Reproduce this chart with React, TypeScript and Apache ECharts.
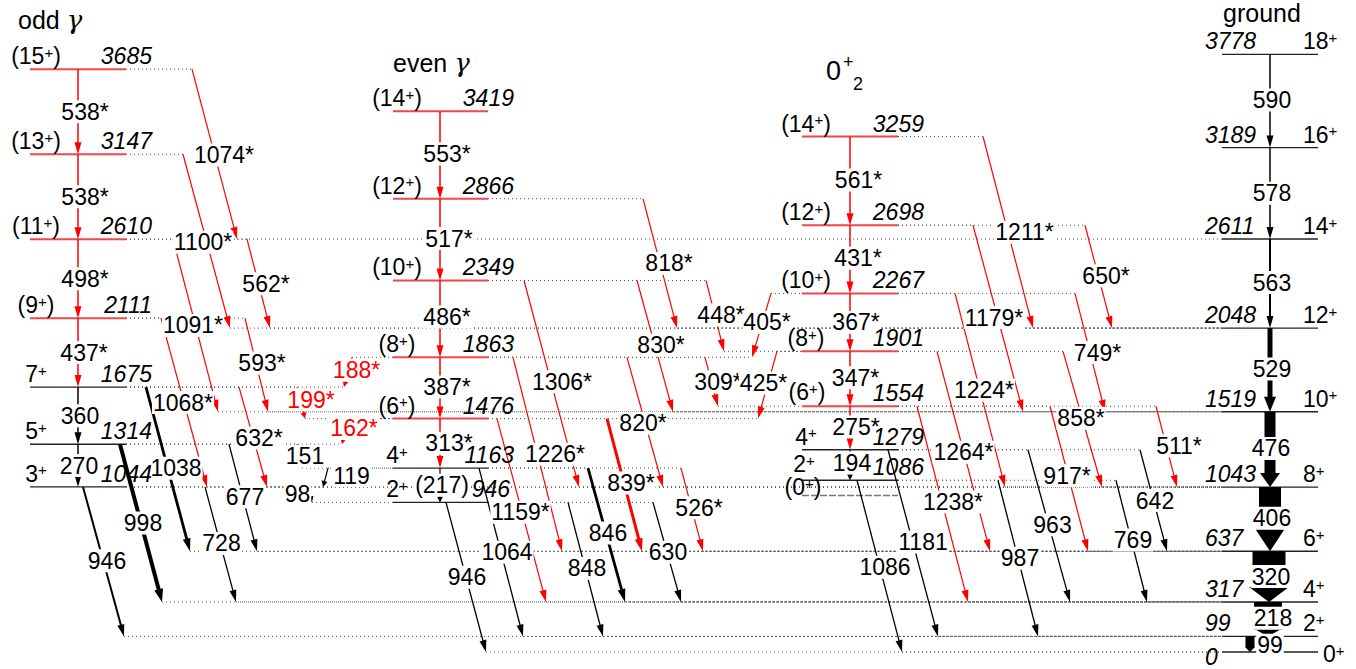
import { useEffect, useRef } from 'react';
import * as echarts from 'echarts';

// ---- levels: energy (keV), spin, band (0 odd γ, 1 even γ, 2 0+2, 3 ground) ----
const levelEnergy = [
  3685, 3147, 2610, 2111, 1675, 1314, 1044,
  3419, 2866, 2349, 1863, 1476, 1163, 946,
  3259, 2698, 2267, 1901, 1554, 1279, 1086, 990,
  3778, 3189, 2611, 2048, 1519, 1043, 637, 317, 99, 0,
];
const levelSpin = [
  '(15+)', '(13+)', '(11+)', '(9+)', '7+', '5+', '3+',
  '(14+)', '(12+)', '(10+)', '(8+)', '(6+)', '4+', '2+',
  '(14+)', '(12+)', '(10+)', '(8+)', '(6+)', '4+', '2+', '(0+)',
  '18+', '16+', '14+', '12+', '10+', '8+', '6+', '4+', '2+', '0+',
];
const levelBand = [
  0, 0, 0, 0, 0, 0, 0,
  1, 1, 1, 1, 1, 1, 1,
  2, 2, 2, 2, 2, 2, 2, 2,
  3, 3, 3, 3, 3, 3, 3, 3, 3, 3,
];
// new levels (drawn red)
const levelNew = [
  true, true, true, true, false, false, false,
  true, true, true, true, true, false, false,
  true, true, true, true, true, false, false, false,
  false, false, false, false, false, false, false, false, false, false,
];
const tentativeLevels = [990];
const unlabelledLevels = [990];

// ---- gamma transitions: label, initial level, final level ----
const gammaLabels = [
  // odd γ band
  '538*', '538*', '498*', '437*', '360', '270',
  '1074*', '1100*', '562*', '1091*', '1068*', '593*', '632*', '1038', '998', '946', '728', '677',
  // odd <-> even links
  '188*', '199*', '162*', '151', '119', '98',
  // even γ band
  '553*', '517*', '486*', '387*', '313*', '(217)',
  '818*', '830*', '1306*', '1226*', '820*', '1159*', '839*', '526*', '846', '630', '1064', '848', '946',
  // 0+2 band
  '561*', '431*', '367*', '347*', '275*', '194',
  '448*', '405*', '309*', '425*', '1211*', '1179*', '650*', '1224*', '749*', '1264*',
  '858*', '1238*', '917*', '511*', '1086', '1181', '987', '963', '642', '769',
  // ground band
  '590', '578', '563', '529', '476', '406', '320', '218', '99',
];
const gammaFrom = [
  3685, 3147, 2610, 2111, 1675, 1314,
  3685, 3147, 2610, 2610, 2111, 2111, 1675, 1675, 1314, 1044, 1044, 1314,
  1863, 1675, 1476, 1314, 1163, 1044,
  3419, 2866, 2349, 1863, 1476, 1163,
  2866, 2349, 2349, 1863, 1863, 1476, 1476, 1163, 1163, 946, 1163, 946, 946,
  3259, 2698, 2267, 1901, 1554, 1279,
  2349, 2267, 1863, 1901, 3259, 2698, 2698, 2267, 2267, 1901,
  1901, 1554, 1554, 1554, 1086, 1279, 1086, 1279, 1279, 1086,
  3778, 3189, 2611, 2048, 1519, 1043, 637, 317, 99,
];
const gammaTo = [
  3147, 2610, 2111, 1675, 1314, 1044,
  2611, 2048, 2048, 1519, 1043, 1519, 1043, 637, 317, 99, 317, 637,
  1675, 1476, 1314, 1163, 1044, 946,
  2866, 2349, 1863, 1476, 1163, 946,
  2048, 1519, 1043, 637, 1043, 317, 637, 637, 317, 317, 99, 99, 0,
  2698, 2267, 1901, 1554, 1279, 1086,
  1901, 1863, 1554, 1476, 2048, 1519, 2048, 1043, 1519, 637,
  1043, 317, 637, 1043, 0, 99, 99, 317, 637, 317,
  3189, 2611, 2048, 1519, 1043, 637, 317, 99, 0,
];
const redTextGammas = ['188*', '199*', '162*'];

// ---- layout (x axis units = px): band extents ----
const bandLayout = [
  { x1: 30, x2: 126, spinX: 36 },
  { x1: 393, x2: 488, spinX: 397 },
  { x1: 802, x2: 898, spinX: 806 },
  { x1: 1222, x2: 1318, spinX: 1303 },
];
// per transition: start x, end x, line width, label dx, label dy, head length, head half-width
const gammaLayout: number[][] = [
  [78, 78, 1.5, 7, 0], [78, 78, 1.5, 7, 0], [78, 78, 1.5, 7, 0], [78, 78, 1.5, 6, 0], [78, 78, 1.5, 2, 0], [78, 78, 1.5, 1, 0],
  [192, 237, 1.2, 9.5, 1], [183, 230, 1.2, -3.5, 1], [247, 270, 1.2, 7.5, 0], [173, 218, 1.2, -2.5, 0],
  [161, 207, 1.2, -1, 0], [245, 268, 1.2, 5.5, -2], [239, 267, 1.2, 6, 1], [146, 190, 2.8, 8, -1],
  [120, 162, 4, 2, 0], [83, 124, 2, 3.5, -1], [205, 236, 1.3, 1, -1], [229, 257, 1.3, 2, -1],
  [352, 344, 1.2, 8.5, -2, 6, 3], [297, 305, 1.2, 10, -3, 6, 3], [348, 342, 1.2, 9, -3, 6, 3],
  [297, 302, 1.2, 5.5, 0, 6, 3], [328, 323, 1.2, 26, -2, 6, 3], [308, 312, 1.2, -12.5, -1, 6, 3],
  [440, 440, 1.5, 7, -1], [440, 440, 1.5, 9, -1], [440, 440, 1.5, 7, -2], [440, 440, 1.5, 7, -1], [440, 440, 1.5, 9, 0], [440, 440, 1.2, 2, 0, 6, 3],
  [643, 677, 1.2, 9, 0], [637, 673, 1.2, 6, -1], [524, 579, 1.2, 10.5, -2], [513, 562, 1.2, 17.5, 0],
  [627, 663, 1.2, -2, 1], [497, 546, 1.2, -1, 2], [607, 642, 3, 6.5, -2], [681, 703, 1.2, 7, -2],
  [588, 625, 2.8, 1.5, -2], [653, 681, 1.3, 1, 0], [479, 523, 1.3, 6, 0], [568, 603, 1.3, 1.5, -1], [446, 486, 1.3, 1, 0],
  [850, 850, 1.5, 8.5, -1], [850, 850, 1.5, 8, -1], [850, 850, 1.5, 6, 0], [850, 850, 1.5, 5.5, -1], [850, 850, 1.5, 6, -1], [850, 850, 1.2, 2, -2, 6, 3],
  [706, 724, 1.2, 6, -1], [771, 752, 1.2, 5.5, -3], [705, 718, 1.2, 6.5, 0], [777, 758, 1.2, -4, -2],
  [983, 1033, 1.2, 16.5, 0], [973, 1023, 1.2, -4, -1], [1085, 1112, 1.2, 7.5, -1], [955, 1005, 1.2, 4, 0],
  [1075, 1105, 1.2, 7.5, 0], [937, 990, 1.2, 0, 1],
  [1063, 1102, 1.2, -1.5, -1], [917, 968, 1.2, 10.5, -2], [1050, 1088, 1.2, -2, -3], [1156, 1177, 1.2, 12.5, -1],
  [857, 902, 1.3, 5.5, 1], [888, 938, 1.3, 10, -1], [998, 1038, 1.3, 2, 0], [1028, 1070, 1.3, 3.5, -1],
  [1140, 1167, 1.3, 1.5, 0], [1116, 1147, 1.3, 1.5, -1],
  [1270, 1270, 1.5, 2, -1], [1270, 1270, 1.5, 2, 0], [1270, 1270, 2, 2, -1], [1270, 1270, 5, 2, -1, 15, 6],
  [1270, 1270, 11, 1, -1, 14, 10], [1270, 1270, 22, 2, -1, 22, 14.5], [1269, 1269, 33, 2, 0, 15, 20],
  [1268, 1268, 28, 5, -1, 7, 12.5], [1250, 1250, 9, 20, 1, 5, 5],
];
// level label offsets (px) for a few crowded levels
const levelLabelShift: Record<number, { edx?: number; edy?: number; sdx?: number; sdy?: number }> = {
  946: { edx: -4, edy: 0 },
  1086: { sdy: -3, sdx: -2 },
  990: { sdy: 5, sdx: -3 },
  1554: { sdx: 1, sdy: -1 },
  0: { edy: 18, sdx: 20, sdy: 15 },
};

const FONT = '"Liberation Sans", Arial, Helvetica, sans-serif';
const RED = '#ff0000';
const SUP = { fontSize: 15, fontFamily: 'Liberation Sans', verticalAlign: 'top', fill: '#000' };

function bandOf(energy: number) {
  return bandLayout[levelBand[levelEnergy.indexOf(energy)]];
}

// dotted connectors between a level and a transition that starts/ends outside its band
function buildDotted() {
  const segs: number[][] = [];
  const add = (energy: number, x: number) => {
    const b = bandOf(energy);
    if (x > b.x2 + 0.5) segs.push([b.x2, energy, x, energy]);
    else if (x < b.x1 - 0.5) segs.push([x, energy, b.x1, energy]);
  };
  gammaFrom.forEach((e, i) => {
    add(e, gammaLayout[i][0]);
    add(gammaTo[i], gammaLayout[i][1]);
  });
  return segs;
}

function buildOption(): echarts.EChartsOption {
  const levelData = levelEnergy.map((e, i) => {
    const b = bandLayout[levelBand[i]];
    return [b.x1, e, b.x2, e];
  });
  const gammaData = gammaFrom.map((e, i) => [gammaLayout[i][0], e, gammaLayout[i][1], gammaTo[i]]);

  const ends = (api: any) => [
    api.coord([api.value(0), api.value(1)]),
    api.coord([api.value(2), api.value(3)]),
  ];

  return {
    animation: false,
    grid: { left: 0, right: 0, top: 0, bottom: 0 },
    xAxis: { type: 'value', min: 0, max: 1356, show: false },
    yAxis: { type: 'value', min: -107, max: 4122, show: false },
    graphic: [
      {
        type: 'text', x: 18, y: 20, z: 10,
        style: { text: 'odd {g|γ}', font: `25px ${FONT}`, verticalAlign: 'middle', fill: '#000',
          rich: { g: { fontFamily: 'DejaVu Serif', fontStyle: 'italic', fontSize: 26 } } } as any,
      },
      {
        type: 'text', x: 393, y: 63, z: 10,
        style: { text: 'even {g|γ}', font: `25px ${FONT}`, verticalAlign: 'middle', fill: '#000',
          rich: { g: { fontFamily: 'DejaVu Serif', fontStyle: 'italic', fontSize: 26 } } } as any,
      },
      { type: 'text', x: 826, y: 71, z: 10, style: { text: '0', font: `27px ${FONT}`, verticalAlign: 'middle', fill: '#000' } },
      { type: 'text', x: 843, y: 62, z: 10, style: { text: '+', font: `18px ${FONT}`, verticalAlign: 'middle', fill: '#000' } },
      { type: 'text', x: 853, y: 84, z: 10, style: { text: '2', font: `18px ${FONT}`, verticalAlign: 'middle', fill: '#000' } },
      { type: 'text', x: 1223, y: 13, z: 10, style: { text: 'ground', font: `25px ${FONT}`, verticalAlign: 'middle', fill: '#000' } },
    ],
    series: [
      {
        type: 'custom',
        name: 'dotted',
        coordinateSystem: 'cartesian2d',
        silent: true,
        clip: false,
        z: 1,
        data: buildDotted(),
        encode: { x: [0, 2], y: [1, 3] },
        renderItem: (_p: any, api: any) => {
          const [a, b] = ends(api);
          return {
            type: 'line',
            shape: { x1: a[0], y1: a[1], x2: b[0], y2: b[1] },
            style: { stroke: '#555', lineWidth: 1, lineDash: [1, 3] },
          };
        },
      },
      {
        type: 'custom',
        name: 'levels',
        coordinateSystem: 'cartesian2d',
        silent: true,
        clip: false,
        z: 2,
        data: levelData,
        encode: { x: [0, 2], y: [1, 3] },
        renderItem: (p: any, api: any) => {
          const [a, b] = ends(api);
          const i = p.dataIndex;
          const tentative = tentativeLevels.includes(levelEnergy[i]);
          const style: any = levelNew[i]
            ? { stroke: '#f04848', lineWidth: 2 }
            : tentative
              ? { stroke: '#777', lineWidth: 1.5, lineDash: [7, 2] }
              : { stroke: '#222', lineWidth: 1.4 };
          return { type: 'line', shape: { x1: a[0], y1: a[1], x2: b[0], y2: b[1] }, style };
        },
      },
      {
        type: 'custom',
        name: 'gammas',
        coordinateSystem: 'cartesian2d',
        silent: true,
        clip: false,
        z: 3,
        data: gammaData,
        encode: { x: [0, 2], y: [1, 3] },
        renderItem: (p: any, api: any) => {
          const i = p.dataIndex;
          const [a, b] = ends(api);
          const lay = gammaLayout[i];
          const w = lay[2];
          const color = gammaLabels[i].includes('*') ? RED : '#000';
          const dx = b[0] - a[0];
          const dy = b[1] - a[1];
          const L = Math.hypot(dx, dy) || 1;
          const ux = dx / L;
          const uy = dy / L;
          const nx = -uy;
          const ny = ux;
          const len = lay[5] ?? (w >= 2.5 ? 13 : 12);
          const half = lay[6] ?? Math.max(3.5, w * 0.5 + 2.5);
          const bx = b[0] - ux * len;
          const by = b[1] - uy * len;
          return {
            type: 'group',
            children: [
              {
                type: 'line',
                shape: { x1: a[0], y1: a[1], x2: bx + ux * 0.5, y2: by + uy * 0.5 },
                style: { stroke: color, lineWidth: w, lineCap: 'butt' },
              },
              {
                type: 'polygon',
                shape: { points: [[b[0], b[1]], [bx + nx * half, by + ny * half], [bx - nx * half, by - ny * half]] },
                style: { fill: color },
              },
            ],
          };
        },
      },
      {
        type: 'custom',
        name: 'gammaLabels',
        coordinateSystem: 'cartesian2d',
        silent: true,
        clip: false,
        z: 4,
        data: gammaData,
        encode: { x: [0, 2], y: [1, 3] },
        renderItem: (p: any, api: any) => {
          const i = p.dataIndex;
          const [a, b] = ends(api);
          const lay = gammaLayout[i];
          const label = gammaLabels[i];
          return {
            type: 'text',
            x: (a[0] + b[0]) / 2 + lay[3],
            y: (a[1] + b[1]) / 2 + lay[4],
            style: {
              text: label,
              font: `23px ${FONT}`,
              fill: redTextGammas.includes(label) ? RED : '#000',
              align: 'center',
              verticalAlign: 'middle',
              backgroundColor: '#fff',
              padding: [0, 1],
            },
          };
        },
      },
      {
        type: 'custom',
        name: 'levelLabels',
        coordinateSystem: 'cartesian2d',
        silent: true,
        clip: false,
        z: 5,
        data: levelData,
        encode: { x: [0, 2], y: [1, 3] },
        renderItem: (p: any, api: any) => {
          const i = p.dataIndex;
          const e = levelEnergy[i];
          const band = levelBand[i];
          const b = bandLayout[band];
          const s = levelLabelShift[e] || {};
          const y = api.coord([b.x1, e])[1] - 13;
          const ground = band === 3;
          const ex = api.coord([ground ? b.x1 - 17 : b.x2 + 26, e])[0];
          const sx = api.coord([b.spinX, e])[0];
          const children: any[] = [
            {
              type: 'text',
              x: sx + (s.sdx ?? 0),
              y: y + (s.sdy ?? 0),
              style: {
                text: levelSpin[i].replace('+', '{s|+}'),
                font: `23px ${FONT}`,
                fill: '#000',
                align: ground ? 'left' : 'center',
                verticalAlign: 'middle',
                rich: { s: SUP },
              },
            },
          ];
          if (!unlabelledLevels.includes(e)) {
            children.push({
              type: 'text',
              x: ex + (s.edx ?? 0),
              y: y + (s.edy ?? 0),
              style: { text: String(e), font: `italic 23px ${FONT}`, fill: '#000', align: ground ? 'left' : 'right', verticalAlign: 'middle' },
            });
          }
          return { type: 'group', children };
        },
      },
    ] as any,
  };
}

export default function App() {
  const chartRef = useRef<HTMLDivElement>(null);

  useEffect(() => {
    if (!chartRef.current) return;
    document.body.style.margin = '0';
    const chart = echarts.init(chartRef.current, undefined, { renderer: 'svg' });
    chart.setOption(buildOption());
    return () => {
      chart.dispose();
    };
  }, []);

  return <div ref={chartRef} style={{ width: 1356, height: 669, background: '#fff' }} />;
}
